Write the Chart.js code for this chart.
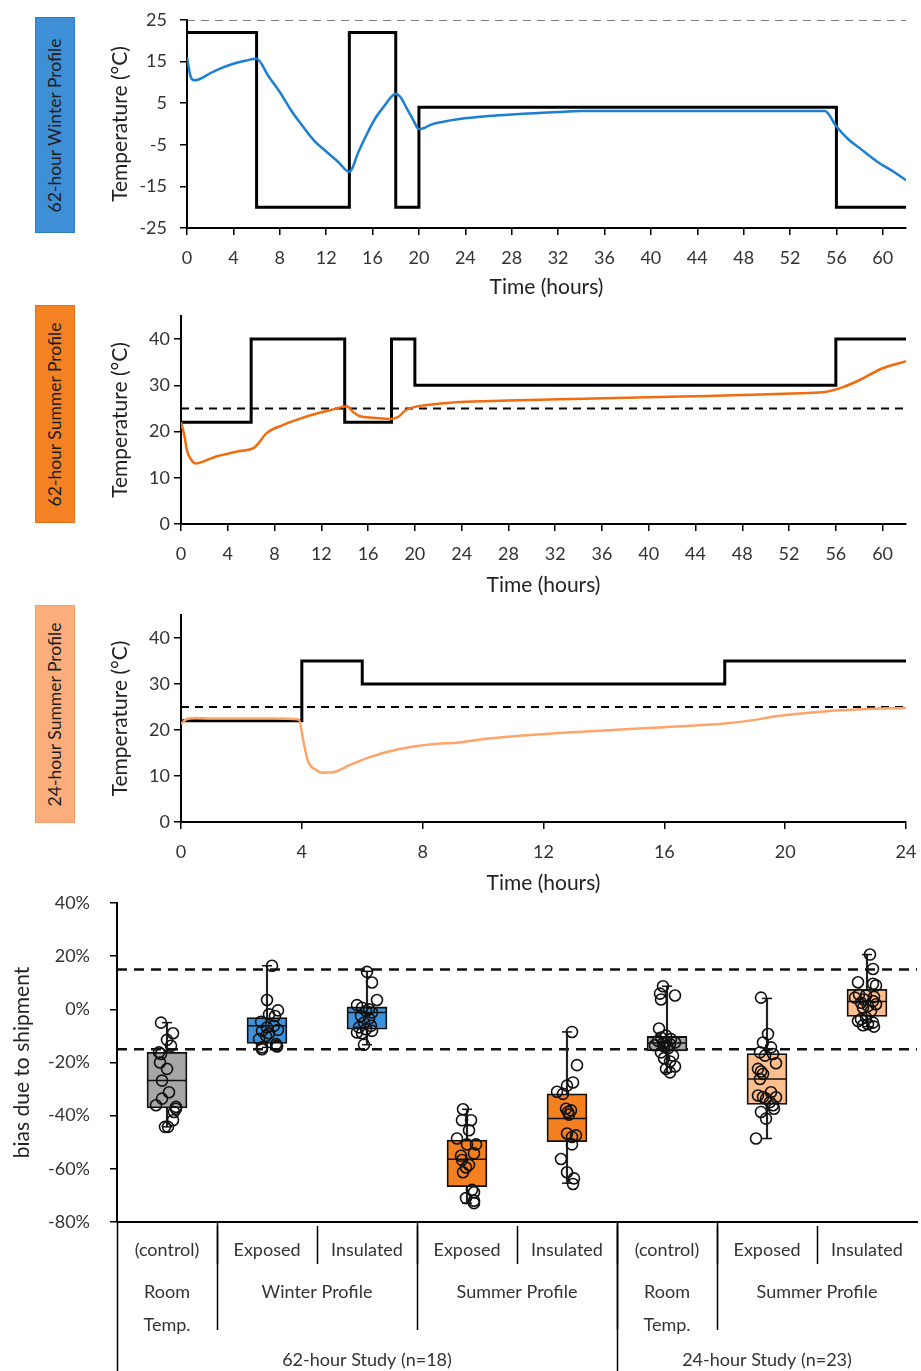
<!DOCTYPE html>
<html>
<head>
<meta charset="utf-8">
<script src="https://cdn.jsdelivr.net/npm/chart.js@4.4.1/dist/chart.umd.min.js"></script>
<style>
  body { margin: 0; background: #fff; width: 921px; height: 1371px; position: relative; overflow: hidden; font-family: Lato, sans-serif; }
  .panel { position: absolute; left: 0; width: 921px; }
  .tag { position: absolute; left: 35px; width: 40px; box-sizing: border-box; display: flex; align-items: center; justify-content: center; }
  .tag span { transform: rotate(-90deg); white-space: nowrap; font-size: 17.5px; color: #1e1e1e; }
</style>
</head>
<body>
<div class="tag" style="top:17px;height:216px;background:#3F8FD7;border:1px solid #2F7DC6"><span>62-hour Winter Profile</span></div>
<div class="tag" style="top:305px;height:218px;background:#F58222;border:1px solid #E47010"><span>62-hour Summer Profile</span></div>
<div class="tag" style="top:605px;height:218px;background:#FBAE7B;border:1px solid #F49C62"><span>24-hour Summer Profile</span></div>

<div class="panel" style="top:0;height:300px"><canvas id="winterChart" width="921" height="300"></canvas></div>
<div class="panel" style="top:300px;height:298px"><canvas id="summerChart" width="921" height="298"></canvas></div>
<div class="panel" style="top:600px;height:296px"><canvas id="dayChart" width="921" height="296"></canvas></div>
<div class="panel" style="top:880px;height:491px"><canvas id="biasChart" width="921" height="491"></canvas></div>

<script>
// ---- temperature profiles ----
var roomTempLimit = 25;

var winterStepHours = [0, 6, 14, 18, 20, 56, 62];
var winterStepTemps = [22, -20, 22, -20, 4, -20, -20];
var winterHours = [0, 0.3, 0.6, 1, 2, 3, 4, 5, 6, 7, 8, 9, 10, 11, 12, 13, 14, 14.8, 15.5, 16.2, 17, 18,
                   18.4, 19, 19.5, 20, 20.5, 21, 22, 23.5, 26, 28, 30, 32, 34, 40, 50, 55, 56, 57, 58, 59.5, 61, 62];
var winterTemps = [16, 11.5, 10.5, 10.7, 12.2, 13.5, 14.5, 15.2, 15.7, 11.6, 7.7, 3.2, -0.6, -4.1, -6.6, -9, -11.5, -6.6, -2.5, 1.2, 4.3, 7.3,
                   6.5, 3.5, 1, -1.2, -0.9, -0.2, 0.5, 1.2, 1.9, 2.3, 2.6, 2.9, 3.1, 3.1, 3.1, 3.1, -0.6, -3.6, -5.8, -9, -11.6, -13.5];

var summerStepHours = [0, 6, 14, 18, 20, 56, 62];
var summerStepTemps = [22, 40, 22, 40, 30, 40, 40];
var summerHours = [0, 0.3, 0.5, 0.9, 1.3, 2, 3, 4, 5, 6.2, 6.6, 7.3, 8.7, 10.2, 11.6, 13, 14.2, 14.7, 15.3, 16.4, 17.9, 18.6,
                   19.2, 20.1, 21.6, 23.8, 28, 32.4, 36, 40.9, 45, 49.5, 53, 55.2, 56.6, 58, 60, 62];
var summerTemps = [22, 19, 16, 13.8, 13.1, 13.6, 14.6, 15.2, 15.8, 16.4, 17.4, 19.6, 21.4, 22.8, 23.9, 24.8, 25.5, 24.3, 23.3, 23, 22.7, 23.2,
                   24.6, 25.4, 25.9, 26.4, 26.7, 27, 27.2, 27.5, 27.7, 28, 28.3, 28.6, 29.6, 31.1, 33.7, 35.2];

var dayStepHours = [0, 4, 6, 18, 24];
var dayStepTemps = [22, 35, 30, 35, 35];
var dayHours = [0, 0.2, 0.5, 1, 2, 3, 3.9, 4.05, 4.2, 4.5, 4.7, 5, 5.6, 6.2, 7.2, 8.3, 9.2, 10, 12, 14, 16, 18, 19, 19.7, 21.4, 22.5, 24];
var dayTemps = [21.3, 22.4, 22.6, 22.5, 22.5, 22.5, 22.3, 17.6, 13.3, 11.2, 10.7, 10.8, 12.4, 14, 15.8, 16.9, 17.3, 18, 19.1, 19.9, 20.6, 21.4, 22.2, 23, 24.1, 24.5, 24.8];

var hour62Ticks = [0, 4, 8, 12, 16, 20, 24, 28, 32, 36, 40, 44, 48, 52, 56, 60];
var hour24Ticks = [0, 4, 8, 12, 16, 20, 24];
var winterTempTicks = [-25, -15, -5, 5, 15, 25];
var summerTempTicks = [0, 10, 20, 30, 40];

// ---- bias box plot ----
var groupLabels = ['(control)', 'Exposed', 'Insulated', 'Exposed', 'Insulated', '(control)', 'Exposed', 'Insulated'];
var profileLabels = [['Room', 'Temp.'], ['Winter Profile'], ['Summer Profile'], ['Room', 'Temp.'], ['Summer Profile']];
var profileSpans = [1, 2, 2, 1, 2];
var studyLabels = ['62-hour Study (n=18)', '24-hour Study (n=23)'];
var studySpans = [5, 3];
var boxColors = ['#A6A6A6', '#3D93DB', '#3D93DB', '#F4801F', '#F4801F', '#A6A6A6', '#FFBE8D', '#FFBE8D'];
var biasTicks = [-80, -60, -40, -20, 0, 20, 40];
var biasLimits = [15, -15];

var boxQ3 = [-16.2, -3.1, 0.9, -49.2, -31.8, -10.2, -16.6, 7.5];
var boxMedian = [-26.8, -6.2, -1.2, -56.4, -41.1, -12.7, -26.2, 2.9];
var boxQ1 = [-37.1, -12.8, -7.5, -66.7, -49.8, -15.6, -35.8, -2.7];
var whiskerHigh = [-5, 16.4, 14.3, -37.6, -8.5, 8.7, 4.1, 20.6];
var whiskerLow = [-44.2, -14.3, -13.3, -72.9, -65.4, -23.7, -48.6, -6.5];

var biasPoints = [
  [-5, -9, -11.5, -13.7, -16.2, -16.8, -20, -22.4, -26.8, -31.2, -33.6, -36.1, -36.7, -37.4, -38.6, -41.7, -44.2, -44.2],
  [16.4, 3.5, -0.4, -1.9, -2.5, -4.7, -6.2, -6.8, -7.7, -8.1, -9, -10, -11.2, -13.1, -13.7, -14.3, -15, -14],
  [14.1, 10.1, 3.5, 1.6, 0.6, 0, -0.6, -1.2, -2.5, -3.5, -5, -6.2, -6.8, -7.5, -8.1, -8.7, -9, -13.3],
  [-37.6, -41.7, -41.7, -45.5, -48.6, -50.8, -50.8, -54.2, -55.1, -56.7, -58.5, -59.5, -61.3, -67.9, -68.8, -71, -72, -72.9],
  [-8.5, -21, -27.5, -28.7, -31, -31.8, -37.4, -38, -38.6, -39.6, -46.7, -47.4, -48, -50.8, -56.3, -61.3, -63.6, -65.7],
  [8.7, 5.9, 5.2, 3.7, -7.2, -9.9, -10.6, -11.2, -11.8, -12.2, -12.5, -12.7, -13.1, -13.5, -14, -14.7, -16.2, -17.4, -18.4, -19.6, -21.5, -22.4, -23.7],
  [4.4, -9.3, -12.5, -14.3, -16.2, -16.8, -17.4, -20.3, -22.4, -23.4, -24.3, -26.2, -31.2, -32.4, -33, -33.1, -33.6, -34.9, -36.1, -37.4, -38.6, -41.1, -48.6],
  [20.6, 15.2, 10.2, 9.6, 9, 5.6, 5.2, 4.7, 4.4, 3.7, 3.1, 2.5, 1.9, 1.2, 0.6, -0.6, -3.1, -3.7, -4.4, -5, -5.6, -6, -6.5]
];
var biasJitter = [
  [-0.06, 0.06, 0, 0.04, -0.08, -0.06, -0.07, 0, -0.05, 0.02, -0.05, -0.11, 0.09, 0.09, 0.07, 0.06, -0.02, 0.01],
  [0.05, 0, 0.11, 0.02, 0.08, -0.06, 0.07, 0, 0.11, -0.05, 0.02, -0.01, -0.08, 0.09, 0.10, -0.05, -0.05, 0.10],
  [0, 0.05, 0.10, -0.10, -0.05, 0.02, -0.01, 0.05, -0.06, 0.02, -0.03, 0.04, -0.08, -0.01, 0.05, -0.10, -0.05, -0.03],
  [-0.04, -0.05, 0.04, 0.02, -0.10, 0, 0.09, 0.07, -0.06, -0.05, 0.02, -0.01, -0.04, 0.05, 0.07, -0.01, 0.07, 0.07],
  [0.05, 0.10, 0.06, 0, -0.10, -0.04, -0.01, 0.04, 0.01, 0.02, 0, 0.09, 0.05, 0.05, -0.06, 0, 0.07, 0.06],
  [-0.04, -0.07, 0.08, -0.06, -0.08, -0.01, -0.06, 0.04, -0.09, -0.01, 0.08, -0.04, 0.03, -0.12, -0.03, 0.01, -0.06, 0.06, -0.03, 0.03, 0.08, -0.01, 0.03],
  [-0.06, 0.01, -0.04, 0.04, -0.07, 0.06, -0.02, 0.09, -0.09, -0.06, -0.04, -0.07, 0.04, -0.09, -0.04, 0.09, -0.01, 0.03, 0.06, 0.07, -0.06, -0.01, -0.11],
  [0.03, 0.06, -0.09, 0.06, 0.09, -0.08, -0.01, 0.07, -0.12, -0.03, 0.06, -0.06, 0.09, 0.01, -0.04, 0.04, -0.01, -0.06, -0.09, 0.06, 0.01, -0.04, 0.07]
];

var textColor = '#333';
var fontName = 'Lato';

function toPoints(xs, ys) {
  return xs.map(function (x, i) { return { x: x, y: ys[i] }; });
}

function fixedTicks(values) {
  return function (scale) {
    scale.ticks = values.map(function (v) { return { value: v }; });
  };
}

// pin the axis box size and drop the label overflow padding, so the plot area lands where it should
function pinBox(prop, size) {
  return function (s) {
    s[prop] = size;
    s.paddingLeft = 0; s.paddingRight = 0; s.paddingTop = 0; s.paddingBottom = 0;
  };
}

function drawProfile(canvasId, cfg) {
  var ctx = document.getElementById(canvasId).getContext('2d');
  return new Chart(ctx, {
    type: 'scatter',
    data: {
      datasets: [
        { data: toPoints(cfg.curveHours, cfg.curveTemps), borderColor: cfg.curveColor, borderWidth: 2.5,
          showLine: true, pointRadius: 0, pointHoverRadius: 0, cubicInterpolationMode: 'monotone', order: 0 },
        { data: toPoints(cfg.stepHours, cfg.stepTemps), borderColor: '#000', borderWidth: 3,
          showLine: true, pointRadius: 0, pointHoverRadius: 0, stepped: true, order: 1 },
        { data: toPoints([0, cfg.xMax], [roomTempLimit, roomTempLimit]), borderColor: cfg.dashColor,
          borderWidth: cfg.dashWidth, borderDash: [8, 6], showLine: true, pointRadius: 0, pointHoverRadius: 0, order: 2 }
      ]
    },
    options: {
      responsive: false,
      animation: false,
      events: [],
      layout: { padding: cfg.padding, autoPadding: false },
      plugins: { legend: { display: false }, tooltip: { enabled: false } },
      scales: {
        x: {
          type: 'linear', min: 0, max: cfg.xMax,
          afterBuildTicks: fixedTicks(cfg.xTicks),
          afterFit: pinBox('height', cfg.xHeight),
          ticks: { font: { family: fontName, size: 18 }, color: textColor, padding: 12, maxRotation: 0, autoSkip: false },
          grid: { drawOnChartArea: false, color: '#000', lineWidth: 1.5, tickLength: 7 },
          border: { color: '#000', width: 2 },
          title: { display: true, text: 'Time (hours)', font: { family: fontName, size: 21 }, color: '#222', padding: 0 }
        },
        y: {
          min: cfg.yMin, max: cfg.yMax,
          afterBuildTicks: fixedTicks(cfg.yTicks),
          afterFit: pinBox('width', cfg.yWidth),
          ticks: { font: { family: fontName, size: 18 }, color: textColor, padding: cfg.yPad },
          grid: { drawOnChartArea: false, color: '#000', lineWidth: 1.5, tickLength: 7 },
          border: { color: '#000', width: 2 },
          title: { display: true, text: 'Temperature (°C)', font: { family: fontName, size: 21 }, color: '#222', padding: { top: 4, bottom: 0 } }
        }
      }
    }
  });
}

var categoryTablePlugin = {
  id: 'categoryTable',
  afterDraw: function (chart) {
    var ctx = chart.ctx;
    var xs = chart.scales.x;
    var top = chart.chartArea.bottom;
    var bottom = chart.height;
    ctx.save();
    ctx.strokeStyle = '#000';
    ctx.lineWidth = 1.5;
    ctx.fillStyle = textColor;
    ctx.font = '18px ' + fontName;
    ctx.textAlign = 'center';
    ctx.textBaseline = 'middle';

    function vline(v, y1, y2) {
      var px = Math.round(xs.getPixelForValue(v)) + 0.5;
      ctx.beginPath();
      ctx.moveTo(px, y1);
      ctx.lineTo(px, y2);
      ctx.stroke();
    }

    vline(-0.5, top, bottom);
    groupLabels.forEach(function (label, i) {
      ctx.fillText(label, xs.getPixelForValue(i), top + 28);
      if (i > 0) vline(i - 0.5, top + 4, top + 42);
    });

    var start = 0;
    profileLabels.forEach(function (lines, k) {
      var mid = start + (profileSpans[k] - 1) / 2;
      lines.forEach(function (line, j) {
        ctx.fillText(line, xs.getPixelForValue(mid), top + 70 + j * 33);
      });
      if (start > 0) vline(start - 0.5, top, top + 108);
      start += profileSpans[k];
    });

    start = 0;
    studyLabels.forEach(function (label, k) {
      var mid = start + (studySpans[k] - 1) / 2;
      ctx.fillText(label, xs.getPixelForValue(mid), top + 138);
      if (start > 0) vline(start - 0.5, top, bottom);
      start += studySpans[k];
    });
    ctx.restore();
  }
};

function drawBias() {
  var ctx = document.getElementById('biasChart').getContext('2d');
  var idx = groupLabels.map(function (l, i) { return i; });
  var points = [];
  biasPoints.forEach(function (vals, g) {
    vals.forEach(function (v, j) { points.push({ x: g + biasJitter[g][j], y: v }); });
  });
  var caps = toPoints(idx, whiskerHigh).concat(toPoints(idx, whiskerLow));

  var limitSets = biasLimits.map(function (lim) {
    return { type: 'scatter', data: toPoints([-0.5, 7.5], [lim, lim]), borderColor: '#111', borderWidth: 2.5,
             borderDash: [10, 7], showLine: true, pointRadius: 0, pointHoverRadius: 0, order: 4 };
  });

  return new Chart(ctx, {
    type: 'scatter',
    data: {
      datasets: [
        { type: 'scatter', data: points, pointRadius: 5.5, borderWidth: 1.6, borderColor: '#111',
          backgroundColor: 'rgba(0,0,0,0)', order: 0 },
        { type: 'scatter', data: toPoints(idx, boxMedian), pointStyle: 'line', pointRadius: 20,
          borderWidth: 1.5, borderColor: '#111', order: 1 },
        { type: 'scatter', data: caps, pointStyle: 'line', pointRadius: 5, borderWidth: 1.5, borderColor: '#111', order: 1 },
        { type: 'bar', data: idx.map(function (i) { return { x: i, y: [boxQ1[i], boxQ3[i]] }; }),
          backgroundColor: boxColors, borderColor: '#111', borderWidth: 1.8, borderSkipped: false,
          barThickness: 40, grouped: false, order: 2 },
        { type: 'bar', data: idx.map(function (i) { return { x: i, y: [whiskerLow[i], whiskerHigh[i]] }; }),
          backgroundColor: '#222', borderWidth: 0, barThickness: 1.5, grouped: false, order: 3 }
      ].concat(limitSets)
    },
    options: {
      responsive: false,
      animation: false,
      events: [],
      layout: { padding: { left: 8, top: 23, right: 4, bottom: 0 }, autoPadding: false },
      plugins: { legend: { display: false }, tooltip: { enabled: false } },
      scales: {
        x: {
          type: 'linear', min: -0.5, max: 7.5, offset: false,
          afterBuildTicks: fixedTicks(idx),
          afterFit: pinBox('height', 149),
          ticks: { display: false },
          grid: { display: false },
          border: { color: '#000', width: 2 }
        },
        y: {
          min: -80, max: 40,
          afterBuildTicks: fixedTicks(biasTicks),
          afterFit: pinBox('width', 109),
          ticks: { font: { family: fontName, size: 18 }, color: textColor, padding: 20,
                   callback: function (v) { return v + '%'; } },
          grid: { drawOnChartArea: false, color: '#000', lineWidth: 1.5, tickLength: 7 },
          border: { color: '#000', width: 2 },
          title: { display: true, text: 'bias due to shipment', font: { family: fontName, size: 21 }, color: '#222',
                   padding: { top: 2, bottom: 0 } }
        }
      }
    },
    plugins: [categoryTablePlugin]
  });
}

window.addEventListener('load', function () {
  drawProfile('winterChart', {
    stepHours: winterStepHours, stepTemps: winterStepTemps,
    curveHours: winterHours, curveTemps: winterTemps, curveColor: '#1B7FD3',
    dashColor: '#555', dashWidth: 1.5,
    xMax: 62, xTicks: hour62Ticks, yMin: -25, yMax: 25, yTicks: winterTempTicks,
    padding: { left: 104, top: 20, right: 15, bottom: 0 }, yWidth: 83, xHeight: 72, yPad: 13
  });
  drawProfile('summerChart', {
    stepHours: summerStepHours, stepTemps: summerStepTemps,
    curveHours: summerHours, curveTemps: summerTemps, curveColor: '#F26B0E',
    dashColor: '#000', dashWidth: 2,
    xMax: 62, xTicks: hour62Ticks, yMin: 0, yMax: 45, yTicks: summerTempTicks,
    padding: { left: 104, top: 16, right: 15, bottom: 0 }, yWidth: 77, xHeight: 74, yPad: 4
  });
  drawProfile('dayChart', {
    stepHours: dayStepHours, stepTemps: dayStepTemps,
    curveHours: dayHours, curveTemps: dayTemps, curveColor: '#FFA469',
    dashColor: '#000', dashWidth: 2,
    xMax: 24, xTicks: hour24Ticks, yMin: 0, yMax: 45, yTicks: summerTempTicks,
    padding: { left: 104, top: 15, right: 15, bottom: 0 }, yWidth: 77, xHeight: 74, yPad: 4
  });
  drawBias();
});
</script>
</body>
</html>
